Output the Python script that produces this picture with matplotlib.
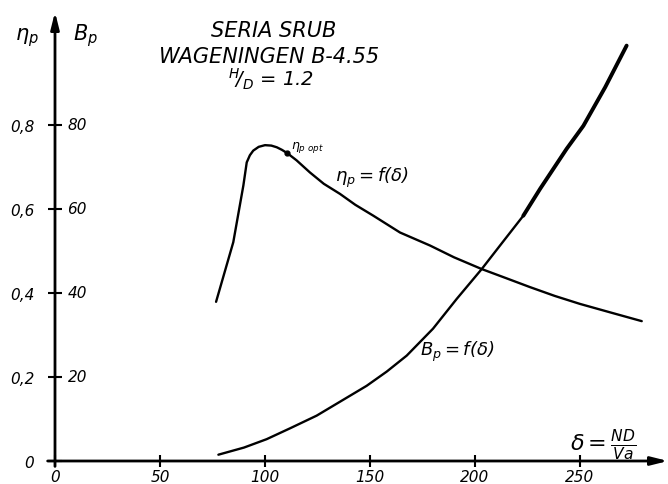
import matplotlib
matplotlib.use("Agg")
import matplotlib.pyplot as plt

# values
delta_eta = [76.7, 84.9, 89.7, 91.3, 92.8, 94.4, 97, 100, 103, 105.6, 108, 110.6,
             115, 121.4, 128, 135.7, 143, 151.6, 164.3, 178.6, 190, 203.2, 215,
             226.2, 238, 250, 265, 279.4]
eta_p = [0.379, 0.521, 0.656, 0.711, 0.728, 0.739, 0.748, 0.752, 0.751, 0.747,
         0.741, 0.733, 0.716, 0.687, 0.66, 0.636, 0.61, 0.584, 0.544, 0.513,
         0.485, 0.457, 0.435, 0.414, 0.393, 0.374, 0.353, 0.333]

delta_b = [77.8, 90, 100.8, 112, 124.6, 136, 148.4, 158, 167.5, 180, 191.3,
           203.2, 213, 223, 231, 243.6, 251.6, 262, 272.2]
b_p = [1.5, 3.2, 5.2, 7.8, 10.8, 14.2, 17.9, 21.3, 25.1, 31.5, 38.6,
       45.7, 52, 58.4, 64.8, 74.3, 79.8, 89, 98.9]

eta_opt = (110.6, 0.733)

x_ticks = [0, 50, 100, 150, 200, 250]
eta_ticks = [0, 0.2, 0.4, 0.6, 0.8]
eta_labels = ["0", "0,2", "0,4", "0,6", "0,8"]
b_ticks = [20, 40, 60, 80]

plt.rcParams["font.family"] = "DejaVu Sans"
plt.rcParams["font.style"] = "italic"
plt.rcParams["mathtext.fontset"] = "custom"
plt.rcParams["mathtext.it"] = "DejaVu Sans:italic"
plt.rcParams["mathtext.rm"] = "DejaVu Sans:italic"

fig = plt.figure(figsize=(6.68, 4.85), dpi=100)
W, H = 668., 485.
# axes origin sits at pixel (55, 462), arrows reach the edges
ax = fig.add_axes([55 / W, (H - 462) / H, (W - 55) / W, (462 - 13) / H])
ax.set_xlim(0, (668 - 55) / 2.1)
ax.set_ylim(0, (462 - 13) / 420.)

ax2 = ax.twinx()
ax2.set_ylim(0, (462 - 13) / 4.2)
ax2.axis("off")

for s in ax.spines.values():
    s.set_visible(False)

# axes drawn as arrows
ax.annotate("", xy=(1.0, 0), xytext=(-0.012, 0), xycoords="axes fraction",
            arrowprops=dict(arrowstyle="-|>,head_length=1.0,head_width=0.25",
                            lw=2, color="black", shrinkA=0, shrinkB=0))
ax.annotate("", xy=(0, 1.0), xytext=(0, -0.012), xycoords="axes fraction",
            arrowprops=dict(arrowstyle="-|>,head_length=1.0,head_width=0.25",
                            lw=2, color="black", shrinkA=0, shrinkB=0))

ax.set_xticks(x_ticks)
ax.set_xticklabels([str(t) for t in x_ticks])
ax.set_yticks(eta_ticks)
ax.set_yticklabels(eta_labels)
ax.tick_params(axis="x", direction="inout", length=8, width=1.5, pad=2, labelsize=11)
ax.tick_params(axis="y", direction="inout", length=10, width=1.5, pad=10, labelsize=11)

# Bp tick labels right of the vertical axis
for v in b_ticks:
    ax2.annotate(str(v), xy=(0, v), xycoords=("axes fraction", "data"),
                 xytext=(9, 0), textcoords="offset points", va="center",
                 ha="left", fontsize=11, annotation_clip=False)

# curves
ax.plot(delta_eta, eta_p, color="black", lw=1.7, solid_capstyle="round")
ax.plot(*eta_opt, "o", color="black", ms=3.5)
ax2.plot(delta_b, b_p, color="black", lw=1.7, solid_capstyle="round")
ax2.plot(delta_b[-6:], b_p[-6:], color="black", lw=2.8, solid_capstyle="round")

# labels
ax.text(-13.3, 1.01, r"$\eta_p$", fontsize=15, ha="center", va="center", clip_on=False)
ax.text(14.5, 1.015, r"$B_p$", fontsize=15, ha="center", va="center", clip_on=False)

ax.text(104, 1.027, "SERIA SRUB", fontsize=15, ha="center", va="center")
ax.text(102, 0.965, "WAGENINGEN B-4.55", fontsize=15, ha="center", va="center")
ax.text(103, 0.912, r"$^{H}\!/_{D}$ = 1.2", fontsize=14, ha="center", va="center")

ax.text(112.5, 0.748, r"$\eta_{p\ opt}$", fontsize=9, ha="left", va="center")
ax.text(133.5, 0.676, r"$\eta_p = f(\delta)$", fontsize=13, ha="left", va="center")
ax2.text(174, 26.2, r"$B_p = f(\delta)$", fontsize=13, ha="left", va="center")
ax.text(261, 0.041, r"$\delta = \frac{ND}{Va}$", fontsize=16, ha="center", va="center")

fig.savefig("out.png", dpi=100)
